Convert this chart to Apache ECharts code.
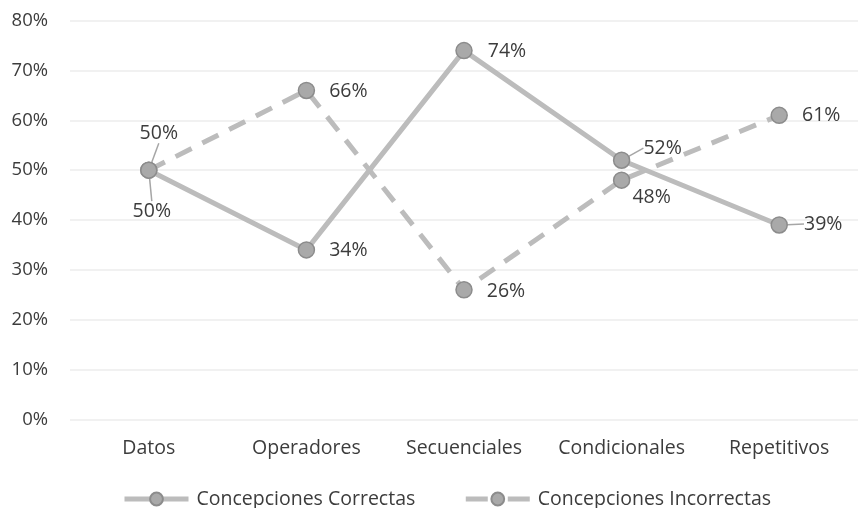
<!DOCTYPE html>
<html><head><meta charset="utf-8">
<script src="https://cdn.jsdelivr.net/npm/echarts@6/dist/echarts.min.js"></script>
<style>html,body{margin:0;padding:0;background:#fff}#c{width:858px;height:508px}</style>
</head><body><div id="c"></div>
<script>
const categories = ['Datos','Operadores','Secuenciales','Condicionales','Repetitivos'];
const correctas = [50, 34, 74, 52, 39];
const incorrectas = [50, 66, 26, 48, 61];
const yTicks = [0,10,20,30,40,50,60,70,80];

const FONT = '"Open Sans", sans-serif';
const FS = 19.5;
const TXT = '#3c3c3c';
const LINE = '#bcbcbc';

// label centre displacement (px) from its point, per series / index
const labelShift = {
  0: [[3,41],[42,1],[43,1],[41,-12],[44,-1]],
  1: [[10,-37],[42,1],[42,2],[30,17],[42,0]]
};
// which labels get a leader line
const withLeader = {0:[0,3,4], 1:[0]};

const chart = echarts.init(document.getElementById('c'));
function mkSeries(name, values, dashed, idx){
  const data = values.map((v,i)=>({
    value: v,
    labelLine: {show: withLeader[idx].indexOf(i) >= 0}
  }));
  return {
    name, type:'line', data,
    symbol:'circle', symbolSize:16,
    lineStyle:{color:LINE, width:5, type: dashed ? [18,12] : 'solid', cap:'butt'},
    itemStyle:{color:'#a9a9a9', borderColor:'#8c8c8c', borderWidth:1.5},
    label:{show:true, position:'inside', formatter: p => p.value + '%', color:TXT, fontFamily:FONT, fontSize:FS},
    labelLine:{show:false, lineStyle:{color:'#a6a6a6', width:1.5}},
    labelLayout: function(p){
      const s = labelShift[idx][p.dataIndex];
      return {dx: s[0], dy: s[1]};
    },
    emphasis:{disabled:true},
    z: idx===0 ? 3 : 2
  };
}
chart.setOption({
  animation:false,
  grid:{left:70, top:20.7, width:792, height:398.6, containLabel:false},
  xAxis:{type:'category', data:categories, boundaryGap:true,
    axisLine:{show:false}, axisTick:{show:false},
    axisLabel:{interval:0, color:TXT, fontFamily:FONT, fontSize:FS, margin:19}},
  yAxis:{type:'value', min:0, max:80, interval:10,
    axisLine:{show:false}, axisTick:{show:false},
    splitLine:{lineStyle:{color:'#ececec', width:1.5}},
    axisLabel:{color:TXT, fontFamily:FONT, fontSize:18.5, margin:22, formatter: v => v + '%'}},
  legend:{top:489, left:122, padding:0, itemWidth:64, itemHeight:16, itemGap:48,
    textStyle:{color:TXT, fontFamily:FONT, fontSize:FS, padding:[0,0,0,3]},
    data:[
      {name:'Concepciones Correctas', lineStyle:{width:5, color:LINE, type:'solid'}},
      {name:'Concepciones Incorrectas', lineStyle:{width:5, color:LINE, type:[22,20]}}
    ]},
  series:[
    mkSeries('Concepciones Correctas', correctas, false, 0),
    mkSeries('Concepciones Incorrectas', incorrectas, true, 1)
  ]
});
</script></body></html>
